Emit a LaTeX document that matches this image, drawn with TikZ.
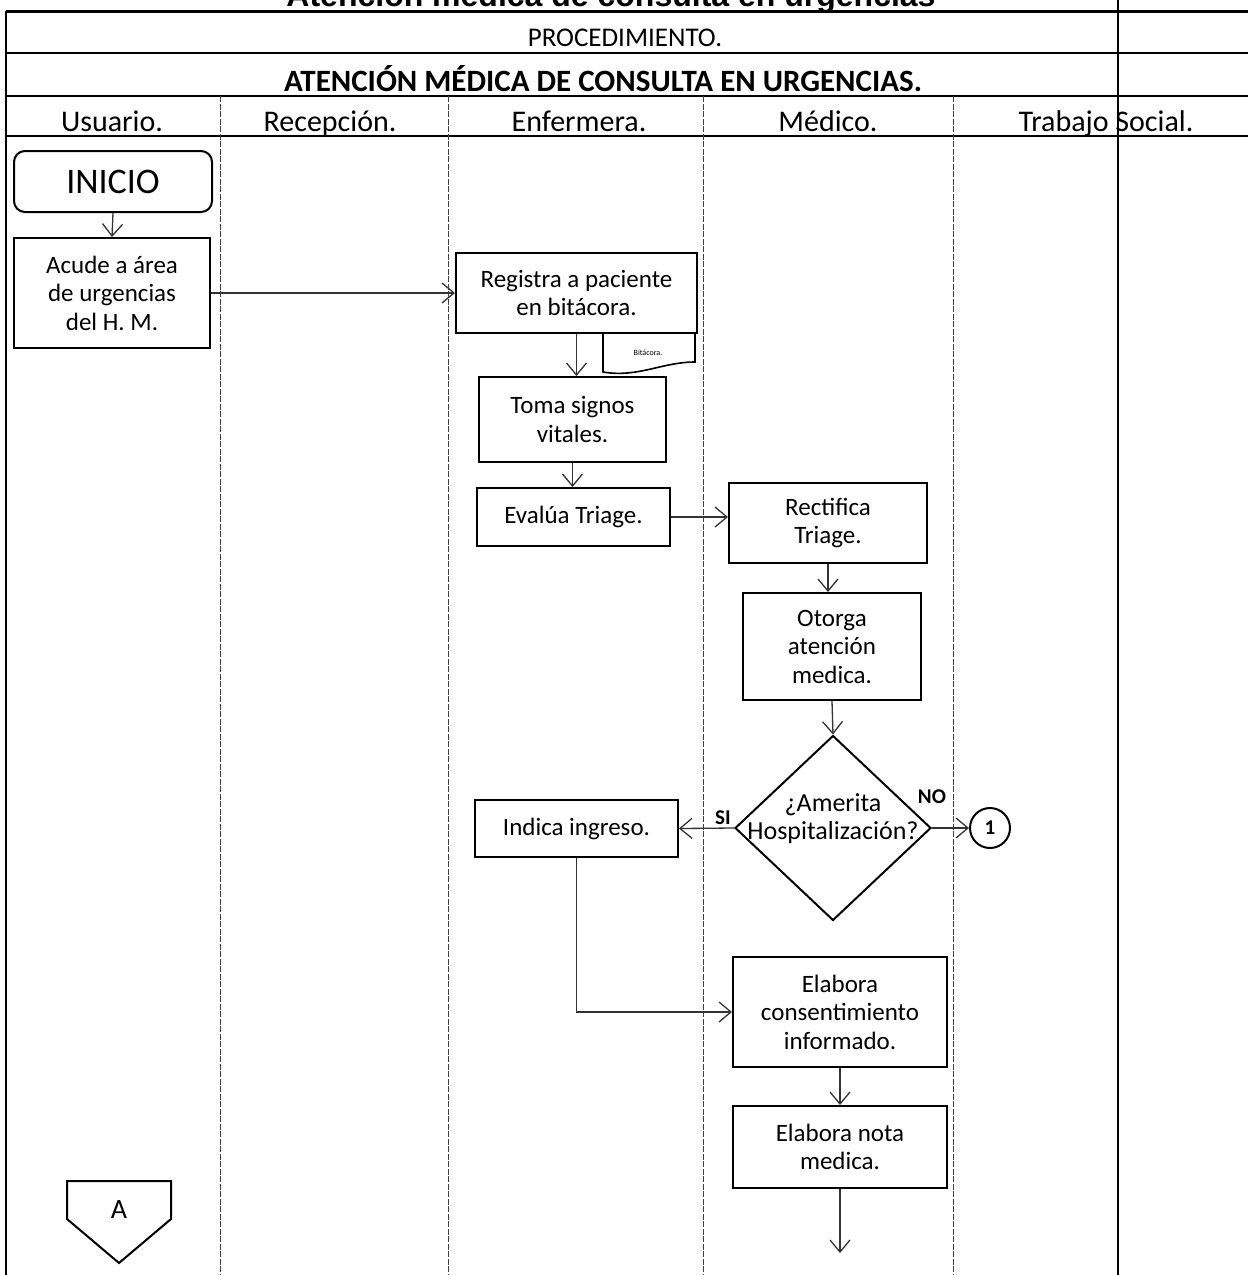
\documentclass[tikz,border=0pt]{standalone}
\usepackage{fontspec}
\setmainfont{Carlito}
\newfontfamily\titlefont{Liberation Sans}
\usetikzlibrary{arrows.meta,shapes.geometric}

\tikzset{
  tableline/.style={line width=2.4pt, black},
  lanediv/.style={line width=1pt, black!75, dash pattern=on 6pt off 1.5pt},
  stepbox/.style={draw, line width=2pt, align=center, inner sep=0pt,
    font=\fontsize{25}{28.5}\selectfont},
  conn/.style={line width=1.3pt, black!80,
    -{Straight Barb[length=12pt,width=20pt,line width=1.3pt]}},
  headtxt/.style={anchor=base, inner sep=0pt, font=\fontsize{30}{33}\selectfont},
  flag/.style={inner sep=0pt, font=\fontsize{21}{24}\selectfont\bfseries},
}

\begin{document}
\begin{tikzpicture}[x=1pt,y=-1pt]
\useasboundingbox (0,0) rectangle (1248,1275);
\clip (0,0) rectangle (1248,1275);

% document title, running off the top edge
\node[anchor=base, inner sep=0pt, font=\titlefont\fontsize{32}{36}\selectfont\bfseries]
  (doctitle) at (611,6) {Atención médica de consulta en urgencias};

% table frame
\draw[line width=3pt] (6,11) -- (1248,11);
\draw[tableline] (6,53) -- (1248,53);
\draw[tableline] (6,96) -- (1248,96);
\draw[tableline] (6,136) -- (1248,136);
\draw[line width=1.8pt] (6,11) -- (6,1275);
\draw[line width=1.4pt] (1118,0) -- (1118,1275);

% swimlane dividers
\foreach \xx in {220,448,703,953}
  \draw[lanediv] (\xx,96) -- (\xx,1275);

% headings
\node[headtxt, font=\fontsize{27}{30}\selectfont] (proc) at (625,46) {PROCEDIMIENTO.};
\node[headtxt, font=\fontsize{31}{34}\selectfont\bfseries] (name) at (603,91)
  {ATENCIÓN MÉDICA DE CONSULTA EN URGENCIAS.};
\node[headtxt] (l1) at (112,131) {Usuario.};
\node[headtxt] (l2) at (330,131) {Recepción.};
\node[headtxt] (l3) at (579,131) {Enfermera.};
\node[headtxt] (l4) at (828,131) {Médico.};
\node[headtxt] (l5) at (1106,131) {Trabajo Social.};

% process steps
\node[stepbox, rounded corners=11pt, minimum width=198pt, minimum height=61pt,
  font=\fontsize{36}{38}\selectfont] (inicio) at (113,181.5) {INICIO};
\node[stepbox, minimum width=196pt, minimum height=110pt] (acude) at (112,293)
  {Acude a área\\de urgencias\\del H. M.};
\node[stepbox, minimum width=241pt, minimum height=80pt] (registra) at (576.5,293)
  {Registra a paciente\\en bitácora.};
\node[stepbox, minimum width=187pt, minimum height=85pt] (toma) at (572.5,419.5)
  {Toma signos\\vitales.};
\node[stepbox, minimum width=193pt, minimum height=58pt] (evalua) at (573.5,517)
  {Evalúa Triage.};
\node[stepbox, minimum width=198pt, minimum height=80pt] (rectifica) at (828,523)
  {Rectifica\\Triage.};
\node[stepbox, minimum width=178pt, minimum height=107pt] (otorga) at (832,646.5)
  {Otorga\\atención\\medica.};
\node[draw, diamond, line width=2pt, inner sep=0pt, minimum width=196pt,
  minimum height=185pt] (dec) at (833,828) {};
\node[align=center, inner sep=0pt, font=\fontsize{26}{28}\selectfont] (dectxt)
  at (833,819) {¿Amerita\\Hospitalización?};
\node[stepbox, minimum width=203pt, minimum height=57pt] (indica) at (576.5,828.5)
  {Indica ingreso.};
\node[draw, circle, line width=2pt, minimum size=40pt, inner sep=0pt,
  font=\fontsize{21}{23}\selectfont\bfseries] (uno) at (990,828) {1};
\node[stepbox, minimum width=214pt, minimum height=110pt] (consent) at (840,1012)
  {Elabora\\consentimiento\\informado.};
\node[stepbox, minimum width=214pt, minimum height=82pt] (nota) at (840,1147)
  {Elabora nota\\medica.};
\coordinate (fin) at (840,1253);

% log document under the register step
\coordinate (bitTL) at (603,333);
\coordinate (bitTR) at (695,333);
\draw[line width=1.6pt] (bitTL) -- (603,372)
  .. controls (638,378) and (662,362) .. (695,362) -- (bitTR);
\node[inner sep=0pt, font=\fontsize{8}{9}\selectfont] (bittxt) at (648,353) {Bitácora.};

% off-page connector
\draw[line width=2pt] (67,1181) -- (171,1181) -- (171,1219) -- (119,1263)
  -- (67,1219) -- cycle;
\node[inner sep=0pt, font=\fontsize{28}{30}\selectfont] (conA) at (119,1210) {A};

% connectors
\draw[conn] (inicio.south) -- (acude.north);
\draw[conn] (acude.east) -- (registra.west);
\draw[conn] (registra.south) -- (registra.south |- toma.north);
\draw[conn] (toma.south) -- (toma.south |- evalua.north);
\draw[conn] (evalua.east) -- (evalua.east -| rectifica.west);
\draw[conn] (rectifica.south) -- (rectifica.south |- otorga.north);
\draw[conn] (otorga.south) -- (dec.north);
\draw[conn] (dec.west) -- (indica.east);
\draw[conn] (dec.east) -- (uno.west);
\draw[conn] (indica.south) |- (consent.west);
\draw[conn] (consent.south) -- (nota.north);
\draw[conn] (nota.south) -- (fin);

% branch labels
\node[flag] (si) at (723,818) {SI};
\node[flag] (no) at (932,797) {NO};
\end{tikzpicture}
\end{document}
